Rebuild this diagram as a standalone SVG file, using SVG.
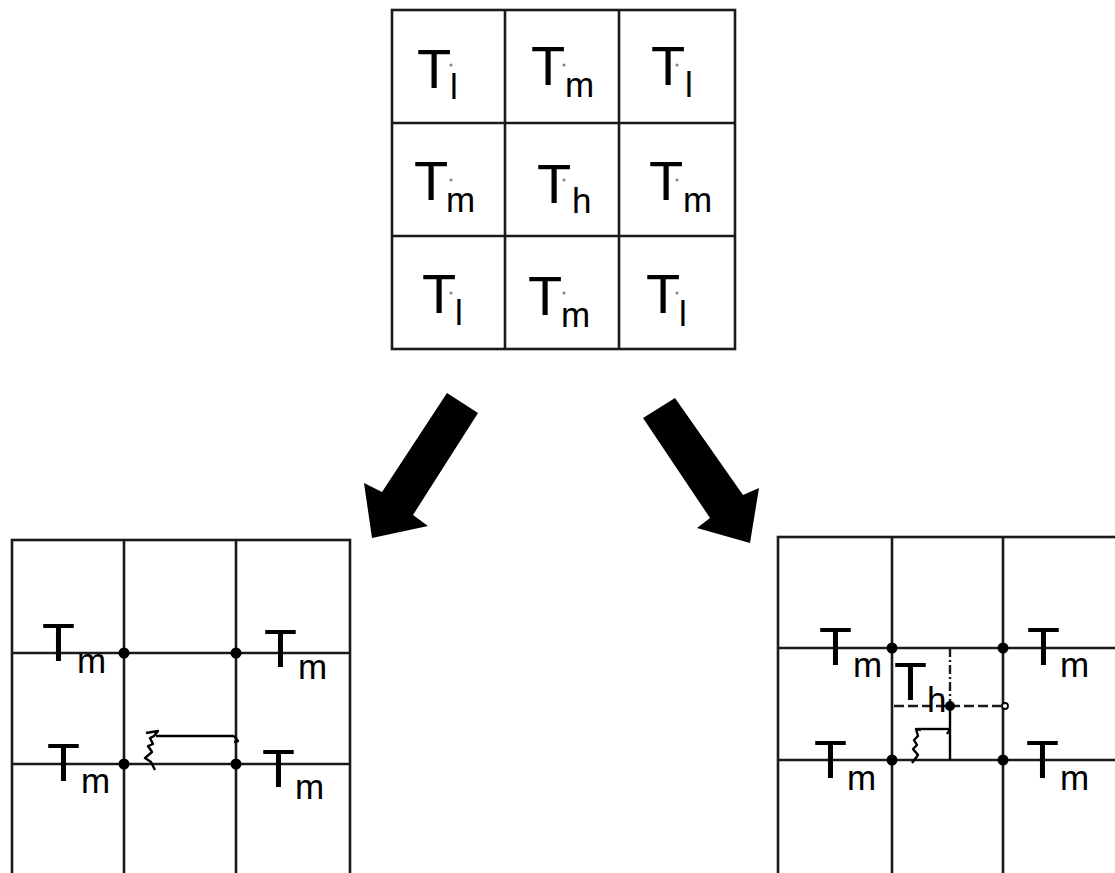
<svg xmlns="http://www.w3.org/2000/svg" width="1115" height="873" viewBox="0 0 1115 873">
<style>
.grid{fill:none;stroke:#1a1a1a;stroke-width:2.6}
.T{font-family:"Liberation Sans",Arial,sans-serif;font-size:56px;fill:#000}
.Tb{font-family:"Liberation Sans",Arial,sans-serif;font-size:54px;fill:#000}
.s{font-family:"Liberation Sans",Arial,sans-serif;font-size:35px;fill:#000}
.gd{fill:#888}
.nd{fill:#000}
.thin{fill:none;stroke:#000;stroke-width:2.4;stroke-linejoin:round}
.dash{fill:none;stroke:#1a1a1a;stroke-width:2.4;stroke-dasharray:10 4}
.dashdot{fill:none;stroke:#1a1a1a;stroke-width:2.4;stroke-dasharray:9 3 2 3}
</style>
<rect width="1115" height="873" fill="#fff"/>
<g id="top-grid">
<rect class="grid" x="392" y="10" width="343" height="339"/>
<path class="grid" d="M505,10V349M619,10V349M392,123H735M392,236H735"/>
<text class="T" x="417" y="88">T</text><text class="s" x="450" y="99">l</text>
<text class="T" x="531" y="85">T</text><text class="s" x="565" y="97">m</text>
<text class="T" x="651" y="85">T</text><text class="s" x="685" y="97">l</text>
<text class="T" x="414" y="200">T</text><text class="s" x="446" y="212">m</text>
<text class="T" x="537" y="203">T</text><text class="s" x="572" y="213">h</text>
<text class="T" x="649" y="200">T</text><text class="s" x="683" y="212">m</text>
<text class="T" x="422" y="313">T</text><text class="s" x="455" y="325">l</text>
<text class="T" x="528" y="315">T</text><text class="s" x="561" y="327">m</text>
<text class="T" x="646" y="313">T</text><text class="s" x="679" y="326">l</text>
<g class="gd">
<circle cx="451" cy="65" r="1.6"/><circle cx="564" cy="65" r="1.6"/><circle cx="677" cy="65" r="1.6"/>
<circle cx="451" cy="180" r="1.6"/><circle cx="564" cy="180" r="1.6"/><circle cx="677" cy="180" r="1.6"/>
<circle cx="451" cy="293" r="1.6"/><circle cx="564" cy="293" r="1.6"/><circle cx="677" cy="293" r="1.6"/>
</g>
</g>
<g id="connectors">
<polygon id="arrow-left" fill="#000" points="447,393 478,413 413,515 428,526 372,538 364,483 382,492"/>
<polygon id="arrow-right" fill="#000" points="675,398 743,495 759,488 750,543 697,528 710,518 643,418"/>
</g>
<g id="bottom-left-grid">
<rect class="grid" x="12" y="540" width="338" height="350"/>
<path class="grid" d="M124,540V890M236,540V890M12,653H350M12,764H350"/>
<g class="nd">
<circle cx="124" cy="653" r="5.5"/><circle cx="236" cy="653" r="5.5"/>
<circle cx="124" cy="764" r="5.5"/><circle cx="236" cy="764" r="5.5"/>
</g>
<path class="thin" d="M156,736H234"/>
<path class="thin" d="M234,736l4,5l-4,1"/>
<path class="thin" d="M146,733L158,731L154,736L150,738L153,744L148,746L152,752L145,758L151,762L155,770"/>
<text class="Tb" x="42" y="661">T</text><text class="s" x="77" y="673">m</text>
<text class="Tb" x="264" y="667">T</text><text class="s" x="298" y="679">m</text>
<text class="Tb" x="47" y="781">T</text><text class="s" x="81" y="793">m</text>
<text class="Tb" x="262" y="787">T</text><text class="s" x="295" y="799">m</text>
</g>
<g id="bottom-right-grid">
<rect class="grid" x="778" y="537" width="350" height="350"/>
<path class="grid" d="M892,537V887M1003,537V887M778,648H1120M778,760H1120"/>
<path class="dashdot" d="M950,648V706"/>
<path class="dash" d="M894,706H1001"/>
<path class="thin" d="M950,706V760"/>
<path class="thin" d="M918,729H950"/>
<path class="thin" d="M950,729l-3,5"/>
<path class="thin" d="M921,730L916,729L918,736L914,740L917,745L913,749L918,755L912,763"/>
<g class="nd">
<circle cx="892" cy="648" r="5.5"/><circle cx="1003" cy="648" r="5.5"/>
<circle cx="892" cy="760" r="5.5"/><circle cx="1003" cy="760" r="5.5"/>
<circle cx="950" cy="706" r="5"/>
</g>
<circle cx="1005" cy="706" r="3" fill="#fff" stroke="#000" stroke-width="1.8"/>
<text class="Tb" x="819" y="665">T</text><text class="s" x="853" y="677">m</text>
<text class="Tb" x="1027" y="665">T</text><text class="s" x="1060" y="677">m</text>
<text class="Tb" x="814" y="778">T</text><text class="s" x="847" y="790">m</text>
<text class="Tb" x="1026" y="778">T</text><text class="s" x="1060" y="790">m</text>
<text class="Tb" x="894" y="700">T</text><text class="s" x="927" y="712">h</text>
</g>
</svg>
